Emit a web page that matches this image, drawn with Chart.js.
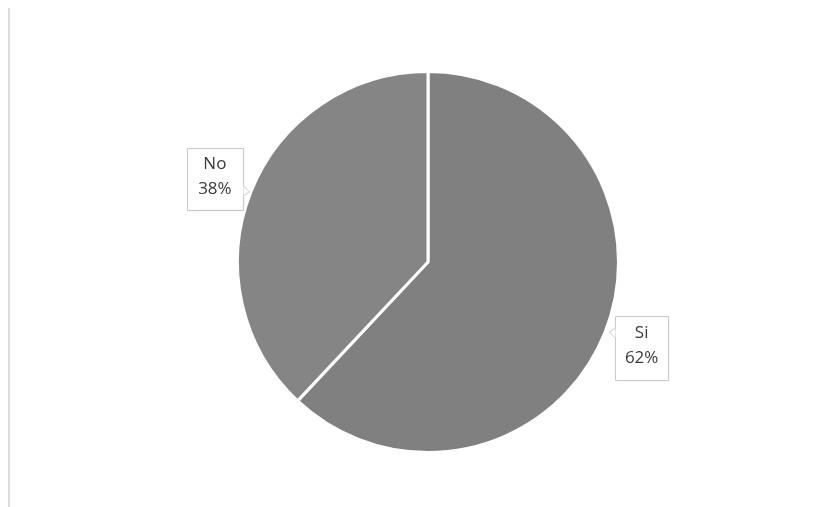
<!DOCTYPE html>
<html>
<head>
<meta charset="utf-8">
<script src="https://cdn.jsdelivr.net/npm/chart.js@4/dist/chart.umd.min.js"></script>
<style>
html,body{margin:0;padding:0;background:#fff;}
#wrap{position:relative;width:833px;height:507px;}
#edge{position:absolute;left:8px;top:8px;width:2px;height:499px;background:#dcdcdc;}
</style>
</head>
<body>
<div id="wrap"><div id="edge"></div><canvas id="c" width="833" height="507"></canvas></div>
<script>
const categories = ["Si", "No"];
const values = [62, 38];
const percentLabels = ["62%", "38%"];

// box placement relative to the slice's outer mid-point (styling only)
const boxStyle = {
  Si: {side: "right", w: 53, h: 64, gap: 10, pointerY: 16},
  No: {side: "left",  w: 56, h: 62, gap: 8,  pointerY: 44}
};

const calloutPlugin = {
  id: "callouts",
  afterDatasetsDraw(chart) {
    const ctx = chart.ctx;
    const meta = chart.getDatasetMeta(0);
    meta.data.forEach((arc, i) => {
      const p = arc.getProps(["x","y","startAngle","endAngle","outerRadius"], true);
      const mid = (p.startAngle + p.endAngle) / 2;
      const px = p.x + Math.cos(mid) * p.outerRadius;
      const py = p.y + Math.sin(mid) * p.outerRadius;
      const s = boxStyle[categories[i]];
      let left, top = py - s.pointerY;
      if (s.side === "left") left = px - s.gap - s.w; else left = px + s.gap;
      ctx.save();
      ctx.shadowColor = "rgba(0,0,0,0.12)";
      ctx.shadowBlur = 3;
      ctx.shadowOffsetX = 1;
      ctx.shadowOffsetY = 1;
      ctx.fillStyle = "#ffffff";
      ctx.beginPath();
      ctx.rect(left, top, s.w, s.h);
      ctx.fill();
      ctx.shadowColor = "transparent";
      ctx.strokeStyle = "#c9c9c9";
      ctx.lineWidth = 1;
      ctx.beginPath();
      ctx.rect(Math.round(left)+0.5, Math.round(top)+0.5, s.w, s.h);
      ctx.stroke();
      ctx.beginPath();
      if (s.side === "left") {
        const ex = Math.round(left + s.w) + 0.5;
        ctx.moveTo(ex, py - 6);
        ctx.lineTo(ex + 6, py);
        ctx.lineTo(ex, py + 4);
      } else {
        const ex = Math.round(left) + 0.5;
        ctx.moveTo(ex, py - 4);
        ctx.lineTo(ex - 6, py);
        ctx.lineTo(ex, py + 6);
      }
      ctx.fillStyle = "#ffffff";
      ctx.fill();
      ctx.stroke();
      ctx.fillStyle = "#3a3a3a";
      ctx.font = "17px 'Open Sans', 'Liberation Sans', sans-serif";
      ctx.textAlign = "center";
      ctx.textBaseline = "middle";
      const cx = left + s.w / 2;
      ctx.fillText(categories[i], cx, top + s.h * 0.27);
      ctx.fillText(percentLabels[i], cx, top + s.h * 0.66);
      ctx.restore();
    });
  }
};

new Chart(document.getElementById("c"), {
  type: "pie",
  data: {
    labels: categories,
    datasets: [{
      data: values,
      backgroundColor: ["#808080", "#858585"],
      borderColor: "#ffffff",
      borderWidth: 3
    }]
  },
  options: {
    responsive: false,
    animation: false,
    layout: {padding: {left: 236, right: 213, top: 70, bottom: 53}},
    plugins: {legend: {display: false}, tooltip: {enabled: false}}
  },
  plugins: [calloutPlugin]
});
</script>
</body>
</html>
